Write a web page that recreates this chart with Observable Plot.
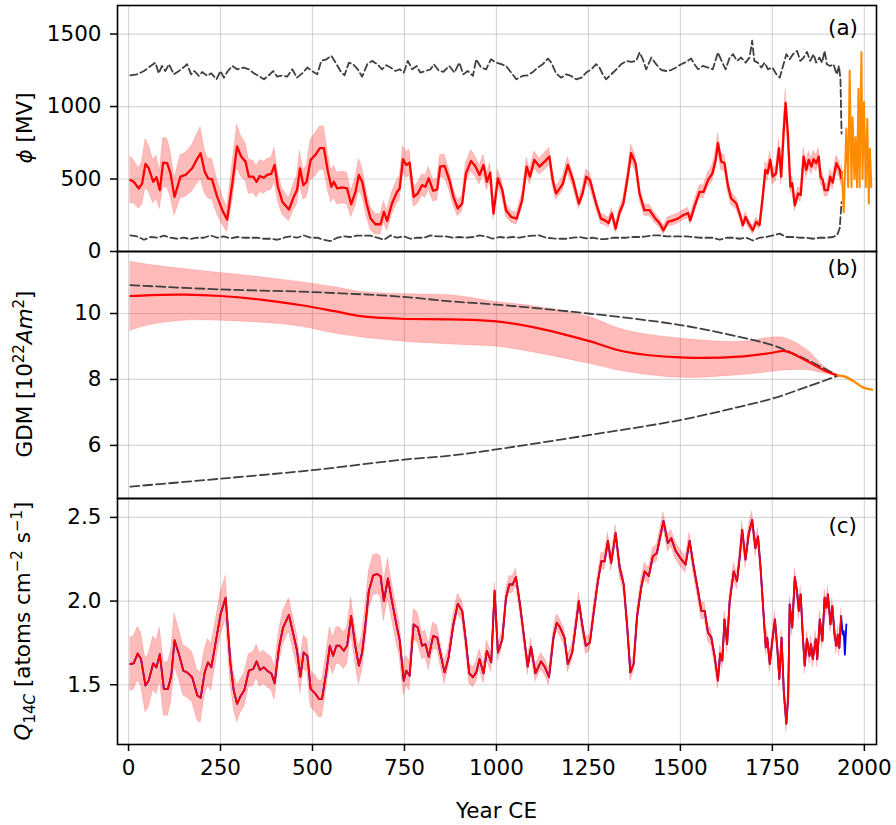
<!DOCTYPE html>
<html><head><meta charset="utf-8">
<script src="https://cdn.jsdelivr.net/npm/d3@7"></script>
<script src="https://cdn.jsdelivr.net/npm/@observablehq/plot@0.6"></script>
<style>
body{margin:0;background:#fff;}
#wrap{position:relative;width:896px;height:825px;font-family:"DejaVu Sans",sans-serif;}
#wrap svg{position:absolute;left:0;}
#wrap g[aria-label="y-axis tick"], #wrap g[aria-label="x-axis tick"]{stroke-width:1.5px;}
</style>
</head><body><div id="wrap"></div>
<script>
// ---------- shared ticks ----------
const yearTicks = [0, 250, 500, 750, 1000, 1250, 1500, 1750, 2000];
const phiTicks = [0, 500, 1000, 1500];
const gdmTicks = [6, 8, 10];
const qTicks = [1.5, 2.0, 2.5];

// ---------- panel (a): phi [MV]  [year, value, uncertainty] ----------
const phiRecon = [
[5,493,160],[14,481,150],[28,435,140],[37,470,150],[46,604,170],[55,574,160],[67,481,150],[76,512,150],[85,424,130],[94,613,170],
[105,609,170],[114,539,160],[125,377,130],[141,516,150],[155,528,150],[173,574,160],[185,632,170],[196,678,180],[207,551,150],[216,505,140],
[227,498,140],[241,377,120],[255,285,100],[268,220,85],[282,470,130],[295,725,150],[306,655,140],[318,620,130],[327,516,120],[339,516,110],
[348,481,110],[357,521,110],[368,509,110],[377,528,110],[388,535,110],[397,597,120],[406,447,100],[418,343,90],[436,289,80],[449,377,90],
[458,424,100],[466,574,120],[475,458,100],[484,481,110],[495,632,140],[508,667,150],[520,713,150],[531,713,150],[542,551,130],[551,447,110],
[558,481,110],[567,435,110],[581,442,110],[594,435,110],[605,326,90],[617,412,100],[626,528,110],[635,481,100],[647,331,90],[658,227,80],
[671,188,70],[685,188,70],[694,273,75],[703,211,70],[716,331,80],[730,412,80],[737,435,85],[746,637,90],[755,597,90],[764,613,90],
[775,377,70],[786,400,70],[798,458,75],[807,447,75],[816,505,80],[828,419,75],[839,428,75],[847,586,80],[859,590,80],[872,493,70],
[883,377,60],[895,296,55],[907,331,55],[917,539,70],[931,625,75],[943,586,70],[954,528,65],[965,597,70],[974,481,60],[983,544,65],
[992,262,45],[1004,505,60],[1016,424,55],[1026,285,45],[1040,238,40],[1055,227,40],[1070,354,50],[1082,586,60],[1091,516,55],[1103,632,60],
[1117,586,55],[1131,620,60],[1144,655,60],[1153,493,50],[1162,400,45],[1180,465,50],[1194,597,55],[1208,493,50],[1224,331,40],[1234,400,45],
[1244,516,50],[1254,493,50],[1271,331,40],[1284,227,35],[1295,215,35],[1305,197,35],[1314,262,35],[1324,157,30],[1335,273,35],[1345,331,40],
[1357,516,50],[1366,678,60],[1378,609,55],[1389,400,45],[1402,285,40],[1416,285,40],[1432,227,35],[1443,197,30],[1454,146,30],[1466,204,30],
[1480,215,35],[1493,227,35],[1507,250,35],[1521,266,35],[1527,215,30],[1538,308,40],[1552,412,45],[1563,412,45],[1575,493,50],[1587,539,55],
[1596,632,60],[1602,748,65],[1611,620,60],[1620,609,55],[1629,458,50],[1638,366,45],[1652,331,40],[1661,262,35],[1670,181,30],[1677,238,35],
[1686,192,30],[1697,146,30],[1706,204,30],[1715,181,30],[1724,377,45],[1731,563,55],[1737,539,55],[1744,632,60],[1751,516,55],[1760,539,55],
[1768,713,65],[1774,516,55],[1781,840,80],[1786,1025,95],[1792,817,75],[1799,447,50],[1804,470,50],[1811,319,40],[1820,400,45],[1827,389,45],
[1835,655,60],[1842,563,55],[1849,632,60],[1856,586,55],[1862,637,60],[1869,609,55],[1876,655,60],[1881,516,50],[1887,493,50],[1892,424,45],
[1901,424,45],[1907,516,50],[1914,475,50],[1924,609,55],[1933,563,55],[1937,505,50],[1939,547,55]
];
const phiModern = [
[1939,547],[1944,271],[1951,848],[1956,444],[1960,1248],[1965,444],[1968,926],[1973,501],[1976,788],[1980,444],
[1984,1122],[1987,444],[1992,1375],[1995,501],[1999,1030],[2004,444],[2008,915],[2012,329],[2015,708],[2019,444]
];
const phiUpper = [
[5,1215],[23,1222],[42,1245],[60,1280],[73,1303],[82,1229],[91,1280],[100,1245],[110,1292],[123,1222],[137,1245],[149,1269],[159,1292],
[170,1222],[179,1245],[191,1211],[200,1238],[214,1211],[225,1229],[239,1188],[250,1245],[259,1199],[270,1245],[282,1280],[295,1257],
[313,1269],[327,1257],[341,1229],[354,1211],[368,1188],[381,1215],[393,1245],[404,1206],[418,1215],[431,1206],[445,1257],[458,1199],
[472,1229],[486,1269],[499,1245],[513,1222],[524,1315],[538,1326],[551,1350],[563,1303],[576,1245],[587,1215],[599,1303],[610,1292],
[623,1257],[635,1206],[649,1292],[662,1315],[676,1292],[689,1257],[701,1285],[712,1269],[726,1245],[737,1257],[748,1234],[759,1315],
[771,1257],[783,1280],[793,1234],[807,1245],[821,1257],[830,1292],[844,1245],[856,1240],[872,1280],[886,1234],[899,1303],[910,1222],
[922,1245],[936,1211],[945,1326],[958,1269],[972,1257],[985,1326],[999,1303],[1013,1292],[1026,1280],[1040,1234],[1054,1188],[1070,1211],
[1085,1215],[1099,1238],[1112,1269],[1126,1292],[1140,1331],[1149,1303],[1162,1229],[1176,1199],[1190,1222],[1203,1211],[1217,1188],
[1231,1199],[1244,1234],[1258,1257],[1271,1292],[1280,1269],[1289,1222],[1298,1188],[1312,1222],[1326,1257],[1339,1292],[1353,1315],
[1366,1308],[1380,1315],[1389,1373],[1398,1326],[1407,1257],[1421,1338],[1434,1292],[1448,1252],[1462,1245],[1475,1252],[1488,1269],
[1502,1292],[1516,1308],[1529,1331],[1538,1292],[1548,1257],[1561,1280],[1575,1269],[1588,1257],[1602,1373],[1614,1303],[1623,1257],
[1634,1338],[1643,1361],[1654,1315],[1665,1338],[1677,1303],[1688,1338],[1695,1454],[1701,1315],[1710,1303],[1720,1269],[1729,1303],
[1738,1257],[1750,1269],[1761,1222],[1770,1199],[1779,1280],[1788,1361],[1797,1326],[1806,1361],[1817,1384],[1826,1315],[1835,1338],
[1844,1377],[1853,1315],[1862,1361],[1869,1303],[1878,1338],[1885,1303],[1892,1384],[1898,1292],[1907,1280],[1916,1292],[1925,1222],
[1931,1280],[1935,1190],[1938,814]
];
const phiLower = [
[5,111],[23,104],[42,81],[60,100],[78,95],[96,109],[114,95],[132,88],[150,95],[168,86],[187,95],[205,95],[223,111],[241,95],[259,104],
[277,90],[295,100],[313,95],[332,95],[350,95],[368,88],[386,88],[404,81],[422,95],[440,104],[458,95],[476,111],[495,95],[513,95],[531,81],
[549,72],[567,95],[585,104],[603,100],[621,109],[639,109],[658,109],[676,95],[694,81],[712,111],[730,95],[748,104],[766,88],[784,95],
[803,95],[821,111],[839,104],[863,104],[881,95],[899,100],[917,95],[936,100],[954,111],[972,104],[990,88],[1008,100],[1026,95],[1044,100],
[1063,95],[1081,104],[1099,109],[1117,111],[1135,95],[1154,90],[1172,88],[1190,88],[1208,95],[1226,100],[1244,90],[1262,95],[1280,86],
[1298,86],[1317,95],[1335,95],[1353,95],[1371,100],[1389,100],[1407,104],[1425,111],[1443,111],[1462,104],[1480,104],[1498,104],[1516,104],
[1534,100],[1552,95],[1570,95],[1588,95],[1607,81],[1625,95],[1643,95],[1661,88],[1679,95],[1697,76],[1715,95],[1734,100],[1752,111],
[1770,123],[1788,100],[1806,100],[1824,95],[1842,95],[1860,88],[1878,95],[1896,95],[1915,100],[1926,112],[1933,160],[1938,340]
];

// ---------- panel (b): GDM [10^22 Am^2] ----------
const gdmYears   = [5, 60, 150, 250, 360, 470, 560, 630, 740, 875, 1000, 1115, 1250, 1350, 1500, 1660, 1750, 1785, 1845, 1890, 1928];
const gdmRecon   = [10.53,10.56,10.57,10.53,10.42,10.25,10.07,9.92,9.84,9.82,9.76,9.55,9.17,8.84,8.67,8.69,8.81,8.86,8.55,8.28,8.11];
const gdmBandHi  = [11.57,11.47,11.35,11.23,11.10,10.95,10.80,10.66,10.59,10.55,10.35,10.20,9.90,9.49,9.24,9.14,9.27,9.25,8.89,8.40,8.12];
const gdmBandLo  = [9.47,9.65,9.78,9.78,9.72,9.60,9.39,9.28,9.15,9.06,8.99,8.79,8.48,8.23,8.05,8.13,8.23,8.27,8.28,8.18,8.10];
const gdmDashYears = [5, 250, 500, 740, 875, 1000, 1250, 1500, 1660, 1750, 1845, 1928];
const gdmUpper   = [10.86,10.73,10.65,10.51,10.37,10.27,10.00,9.65,9.29,9.04,8.59,8.11];
const gdmLower   = [4.75,4.99,5.25,5.56,5.69,5.88,6.31,6.77,7.17,7.42,7.78,8.11];
const gdmModernYears = [1928, 1946, 1969, 1996, 2021];
const gdmModern      = [8.12, 8.09, 7.96, 7.76, 7.69];

// ---------- panel (c): Q14C  [year, value, uncertainty] ----------
const qRecon = [
[5,1.624,0.16],[14,1.628,0.16],[25,1.687,0.16],[34,1.653,0.16],[46,1.495,0.16],[55,1.525,0.16],[67,1.628,0.16],[76,1.604,0.16],[85,1.683,0.16],[96,1.475,0.16],
[107,1.475,0.16],[116,1.554,0.16],[125,1.766,0.16],[137,1.683,0.15],[149,1.584,0.15],[159,1.574,0.15],[173,1.545,0.15],[187,1.436,0.15],[196,1.422,0.15],[207,1.574,0.14],
[216,1.634,0.14],[225,1.604,0.14],[236,1.743,0.13],[250,1.921,0.13],[264,2.020,0.13],[277,1.624,0.12],[286,1.465,0.11],[295,1.386,0.11],[304,1.430,0.10],[315,1.469,0.10],
[327,1.584,0.10],[339,1.594,0.10],[348,1.640,0.10],[357,1.588,0.10],[368,1.604,0.10],[377,1.584,0.10],[388,1.568,0.10],[397,1.509,0.10],[409,1.723,0.10],[420,1.842,0.10],
[436,1.917,0.10],[449,1.792,0.10],[458,1.703,0.10],[467,1.549,0.10],[476,1.693,0.10],[486,1.673,0.10],[495,1.475,0.11],[508,1.446,0.11],[517,1.416,0.11],[526,1.416,0.11],
[538,1.584,0.11],[547,1.733,0.11],[556,1.673,0.11],[565,1.733,0.11],[574,1.733,0.11],[585,1.703,0.11],[594,1.733,0.11],[605,1.911,0.11],[617,1.723,0.11],[626,1.614,0.11],
[635,1.693,0.11],[644,1.861,0.12],[653,2.059,0.12],[665,2.154,0.12],[676,2.162,0.12],[685,2.149,0.12],[694,2.000,0.12],[705,2.135,0.12],[716,2.000,0.11],[728,1.861,0.11],
[737,1.766,0.10],[748,1.525,0.09],[755,1.584,0.09],[764,1.554,0.09],[775,1.861,0.09],[786,1.842,0.09],[798,1.733,0.08],[807,1.743,0.08],[816,1.667,0.08],[828,1.792,0.08],
[839,1.782,0.07],[848,1.683,0.07],[859,1.574,0.07],[870,1.663,0.06],[883,1.861,0.06],[895,1.984,0.06],[907,1.941,0.06],[917,1.762,0.06],[926,1.568,0.06],[936,1.545,0.06],
[945,1.574,0.06],[954,1.653,0.06],[965,1.568,0.06],[974,1.703,0.06],[986,1.634,0.06],[995,2.063,0.05],[1004,1.693,0.05],[1016,1.772,0.05],[1026,2.020,0.05],[1035,2.099,0.05],
[1044,2.099,0.05],[1053,2.143,0.05],[1064,1.980,0.05],[1073,1.822,0.05],[1085,1.608,0.05],[1094,1.727,0.05],[1106,1.568,0.05],[1121,1.640,0.05],[1132,1.604,0.05],[1143,1.545,0.05],
[1155,1.782,0.05],[1164,1.871,0.05],[1173,1.842,0.05],[1185,1.782,0.05],[1194,1.624,0.05],[1206,1.693,0.05],[1215,1.842,0.05],[1224,2.000,0.05],[1233,1.861,0.05],[1243,1.733,0.05],
[1254,1.752,0.05],[1266,1.960,0.05],[1276,2.119,0.05],[1285,2.238,0.05],[1294,2.238,0.05],[1303,2.360,0.05],[1312,2.228,0.05],[1324,2.406,0.05],[1335,2.198,0.05],[1346,2.099,0.05],
[1355,1.861,0.05],[1364,1.574,0.05],[1373,1.624,0.05],[1382,1.901,0.05],[1394,2.089,0.05],[1403,2.178,0.05],[1414,2.149,0.05],[1425,2.267,0.05],[1436,2.287,0.05],[1454,2.479,0.05],
[1466,2.347,0.05],[1475,2.376,0.05],[1487,2.301,0.05],[1500,2.257,0.05],[1514,2.218,0.05],[1525,2.360,0.05],[1536,2.208,0.05],[1548,2.059,0.05],[1557,1.941,0.05],[1566,1.941,0.05],
[1575,1.812,0.05],[1584,1.782,0.05],[1593,1.673,0.05],[1602,1.525,0.05],[1608,1.687,0.05],[1614,1.644,0.05],[1620,1.891,0.05],[1627,1.743,0.05],[1634,2.000,0.05],[1645,2.178,0.05],
[1654,2.119,0.05],[1661,2.257,0.05],[1668,2.426,0.05],[1677,2.248,0.05],[1686,2.406,0.05],[1695,2.485,0.05],[1704,2.317,0.05],[1711,2.386,0.05],[1718,2.198,0.05],[1725,1.960,0.05],
[1732,1.723,0.05],[1736,1.782,0.05],[1743,1.624,0.05],[1750,1.762,0.05],[1757,1.891,0.05],[1764,1.703,0.05],[1769,1.535,0.05],[1775,1.782,0.05],[1781,1.465,0.05],[1788,1.267,0.05],
[1793,1.426,0.05],[1797,1.980,0.05],[1804,1.842,0.05],[1811,2.143,0.05],[1817,2.059,0.05],[1822,1.941,0.05],[1827,2.040,0.05],[1833,1.782,0.05],[1838,1.614,0.05],[1844,1.772,0.05],
[1851,1.673,0.05],[1855,1.743,0.05],[1860,1.653,0.05],[1868,1.772,0.05],[1872,1.653,0.05],[1879,1.891,0.05],[1886,1.762,0.05],[1892,2.020,0.05],[1897,1.960,0.05],[1901,2.040,0.05],
[1908,1.861,0.05],[1913,1.970,0.05],[1919,1.802,0.05],[1924,1.733,0.05],[1928,1.800,0.05],[1932,1.720,0.05],[1937,1.910,0.05]
];
const qAltTail = [[1937,1.910],[1941,1.800],[1944,1.820],[1947,1.680],[1951,1.860]];

// ---------- layout helpers ----------
const X_DOMAIN = [-30, 2033];
const W = 896, ML = 117, MR = 20;
const FS = 21.5;
const GRID = {stroke: "#b0b0b0", strokeOpacity: 0.5, strokeWidth: 1.2};
const STYLE = {fontFamily: "DejaVu Sans", fontSize: FS + "px", background: "none", overflow: "visible", color: "black"};
const DASH = {stroke: "#404040", strokeWidth: 1.8, strokeDasharray: "7,3.5"};

function yLabel(svg, cx, cy, parts) {
  const t = d3.select(svg).append("text")
    .attr("transform", `translate(${cx},${cy}) rotate(-90)`)
    .attr("text-anchor", "middle").attr("dy", "0.35em")
    .attr("font-family", "DejaVu Sans").attr("font-size", FS).attr("fill", "black");
  let cur = 0;
  for (const p of parts) {
    const s = t.append("tspan").text(p.t);
    const shift = p.sup ? -8 : p.sub ? 5 : 0;
    if (shift !== cur) { s.attr("dy", shift - cur); cur = shift; }
    if (p.sup || p.sub) s.attr("font-size", 15);
    if (p.it) s.attr("font-style", "italic");
  }
}
function tag(svg, x, y, txt) {
  d3.select(svg).append("text").attr("x", x).attr("y", y).attr("text-anchor", "end")
    .attr("font-family", "DejaVu Sans").attr("font-size", FS).attr("fill", "black").text(txt);
}

const wrap = document.getElementById("wrap");

// ---------- panel (a) ----------
const pa = Plot.plot({
  width: W, height: 251, marginTop: 5, marginBottom: 0, marginLeft: ML, marginRight: MR,
  style: STYLE,
  x: {domain: X_DOMAIN, axis: null},
  y: {domain: [0, 1697], ticks: phiTicks, tickFormat: "d", tickSize: 7, tickPadding: 9, label: null},
  marks: [
    Plot.ruleX(yearTicks, GRID),
    Plot.ruleY(phiTicks, GRID),
    Plot.areaY(phiRecon, {x: d => d[0], y1: d => d[1] - d[2], y2: d => d[1] + d[2], fill: "#ff0000", fillOpacity: 0.27, stroke: "#ff0000", strokeOpacity: 0.12}),
    Plot.line(phiUpper, {x: d => d[0], y: d => d[1], ...DASH}),
    Plot.line(phiLower, {x: d => d[0], y: d => d[1], ...DASH}),
    Plot.line(phiRecon, {x: d => d[0], y: d => d[1], stroke: "#ff0000", strokeWidth: 2.3}),
    Plot.line(phiModern, {x: d => d[0], y: d => d[1], stroke: "#ff8c00", strokeWidth: 2}),
    Plot.frame({stroke: "black", strokeWidth: 1.6})
  ]
});
pa.style.top = "0px";
wrap.appendChild(pa);
yLabel(pa, 24, 128, [{t: "ϕ", it: true}, {t: " [MV]"}]);
tag(pa, 858, 34.5, "(a)");

// ---------- panel (b) ----------
const gdmRows = gdmYears.map((yr, i) => ({yr, v: gdmRecon[i], hi: gdmBandHi[i], lo: gdmBandLo[i]}));
const gdmDash = gdmDashYears.map((yr, i) => ({yr, up: gdmUpper[i], lo: gdmLower[i]}));
const gdmMod = gdmModernYears.map((yr, i) => ({yr, v: gdmModern[i]}));
const pb = Plot.plot({
  width: W, height: 247, marginTop: 0, marginBottom: 0, marginLeft: ML, marginRight: MR,
  style: STYLE,
  x: {domain: X_DOMAIN, axis: null},
  y: {domain: [4.39, 11.88], ticks: gdmTicks, tickFormat: "d", tickSize: 7, tickPadding: 9, label: null},
  marks: [
    Plot.ruleX(yearTicks, GRID),
    Plot.ruleY(gdmTicks, GRID),
    Plot.areaY(gdmRows, {x: "yr", y1: "lo", y2: "hi", curve: "catmull-rom", fill: "#ff0000", fillOpacity: 0.27, stroke: "#ff0000", strokeOpacity: 0.12}),
    Plot.line(gdmDash, {x: "yr", y: "up", curve: "catmull-rom", ...DASH, strokeDasharray: "9,4"}),
    Plot.line(gdmDash, {x: "yr", y: "lo", curve: "catmull-rom", ...DASH, strokeDasharray: "9,4"}),
    Plot.line(gdmRows, {x: "yr", y: "v", curve: "catmull-rom", stroke: "#ff0000", strokeWidth: 2.2}),
    Plot.line(gdmMod, {x: "yr", y: "v", curve: "catmull-rom", stroke: "#ff8c00", strokeWidth: 2.4}),
    Plot.frame({stroke: "black", strokeWidth: 1.6})
  ]
});
pb.style.top = "251px";
wrap.appendChild(pb);
yLabel(pb, 24, 123, [{t: "GDM [10"}, {t: "22", sup: true}, {t: "Am", it: true}, {t: "2", sup: true}, {t: "]"}]);
tag(pb, 858, 24, "(b)");

// ---------- panel (c) ----------
const qAlt = qRecon.map(d => [d[0], d[1]]).concat(qAltTail.slice(1));
const pc = Plot.plot({
  width: W, height: 327, marginTop: 0, marginBottom: 81, marginLeft: ML, marginRight: MR,
  style: STYLE,
  x: {domain: X_DOMAIN, ticks: yearTicks, tickFormat: "d", tickSize: 7, tickPadding: 8, label: null},
  y: {domain: [1.143, 2.613], ticks: qTicks, tickFormat: ".1f", tickSize: 7, tickPadding: 9, label: null},
  marks: [
    Plot.ruleX(yearTicks, GRID),
    Plot.ruleY(qTicks, GRID),
    Plot.areaY(qRecon, {x: d => d[0], y1: d => d[1] - d[2], y2: d => d[1] + d[2], fill: "#ff0000", fillOpacity: 0.27, stroke: "#ff0000", strokeOpacity: 0.12}),
    Plot.line(qAlt, {x: d => d[0], y: d => d[1], stroke: "#0000ff", strokeWidth: 1.8}),
    Plot.line(qRecon, {x: d => d[0], y: d => d[1], stroke: "#ff0000", strokeWidth: 1.8}),
    Plot.frame({stroke: "black", strokeWidth: 1.6})
  ]
});
pc.style.top = "498px";
wrap.appendChild(pc);
yLabel(pc, 22, 123, [{t: "Q", it: true}, {t: "14", sub: true}, {t: "C", sub: true, it: true}, {t: " [atoms cm"}, {t: "−2", sup: true}, {t: " s"}, {t: "−1", sup: true}, {t: "]"}]);
tag(pc, 857, 35, "(c)");
d3.select(pc).append("text").attr("x", (ML + W - MR) / 2).attr("y", 320).attr("text-anchor", "middle")
  .attr("font-family", "DejaVu Sans").attr("font-size", FS).attr("fill", "black").text("Year CE");
</script>
</body></html>
